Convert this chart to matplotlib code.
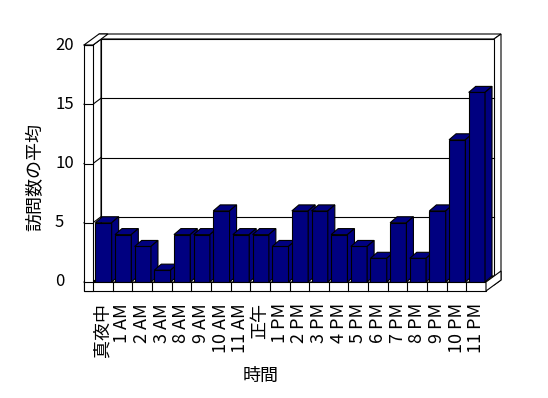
import matplotlib
matplotlib.use('Agg')
import matplotlib.pyplot as plt
from matplotlib.patches import Polygon

plt.rcParams['font.family'] = ['Noto Sans CJK JP', 'DejaVu Sans']

# data
hours = ['真夜中', '1 AM', '2 AM', '3 AM', '8 AM', '9 AM', '10 AM', '11 AM',
         '正午', '1 PM', '2 PM', '3 PM', '4 PM', '5 PM', '6 PM', '7 PM',
         '8 PM', '9 PM', '10 PM', '11 PM']
avg_visits = [5, 4, 3, 1, 4, 4, 6, 4, 4, 3, 6, 6, 4, 3, 2, 5, 2, 6, 12, 16]
y_ticks = [0, 5, 10, 15, 20]
y_label = '訪問数の平均'
x_label = '時間'

# pixel geometry of the pseudo-3D box (Excel style)
X0_PX, Y0_PX = 93, 282          # front-left-bottom corner of plot floor
SLOT_PX, UNIT_PX = 19.65, 11.85  # px per category, px per value unit
W, H = len(hours), 20
PX, PY = 1 / SLOT_PX, 1 / UNIT_PX
DEPTH = (8 * PX, 6 * PY)         # front plane -> back wall surface
THICK = (7 * PX, 5 * PY)         # back wall thickness
SLAB_X, SLAB_Y = 9 * PX, 9 * PY  # left wall / floor thickness
BAR_D = (7 * PX, 6 * PY)
NAVY = '#000080'
LW = 0.8

fig = plt.figure(figsize=(5.48, 3.98), dpi=100)
ax = fig.add_axes([0, 0, 1, 1])
ax.set_xlim(-X0_PX * PX, (548 - X0_PX) * PX)
ax.set_ylim((Y0_PX - 398) * PY, Y0_PX * PY)
ax.set_axis_off()


def poly(pts, fc='white', z=1):
    ax.add_patch(Polygon(pts, closed=True, facecolor=fc, edgecolor='black',
                         linewidth=LW, zorder=z, joinstyle='miter'))


dx, dy = DEPTH
tx, ty = THICK
# back wall: top strip, right strip, front surface
poly([(0 + dx, H + dy), (W + dx, H + dy), (W + dx + tx, H + dy + ty),
      (dx + tx - SLAB_X, H + dy + ty)])
poly([(W + dx, H + dy), (W + dx + tx, H + dy + ty), (W + dx + tx, dy + ty - SLAB_Y),
      (W + dx, dy - SLAB_Y)])
poly([(dx, dy), (W + dx, dy), (W + dx, H + dy), (dx, H + dy)])
for v in y_ticks[1:-1]:
    ax.plot([dx, W + dx], [v + dy, v + dy], color='black', lw=LW, zorder=2)

# left wall inner face with diagonal gridlines
poly([(0, 0), (dx, dy), (dx, H + dy), (0, H)])
for v in y_ticks:
    ax.plot([-SLAB_X, 0, dx], [v, v, v + dy], color='black', lw=LW, zorder=2)

# floor top face
poly([(0, 0), (W, 0), (W + dx, dy), (dx, dy)])

# bars, drawn left to right so each covers its neighbour's side face
bw0, bw1 = 0.12, 0.95
for i, v in enumerate(avg_visits):
    x0, x1 = i + bw0, i + bw1
    bx, by = BAR_D
    poly([(x0, 0), (x1, 0), (x1, v), (x0, v)], fc=NAVY, z=3)
    poly([(x0, v), (x1, v), (x1 + bx, v + by), (x0 + bx, v + by)], fc=NAVY, z=3)
    poly([(x1, 0), (x1 + bx, by), (x1 + bx, v + by), (x1, v)], fc=NAVY, z=3)

# floor slab front + right faces, left wall front + top faces
poly([(-SLAB_X, -SLAB_Y), (W, -SLAB_Y), (W, 0), (-SLAB_X, 0)], z=4)
poly([(W, -SLAB_Y), (W + dx + tx, dy + ty - SLAB_Y), (W + dx + tx, dy + ty),
      (W, 0)], z=4)
for i in range(1, W):
    ax.plot([i, i], [-SLAB_Y, 0], color='black', lw=LW, zorder=5)
poly([(-SLAB_X, -SLAB_Y), (0, -SLAB_Y), (0, H), (-SLAB_X, H)], z=4)
poly([(-SLAB_X, H), (0, H), (dx + tx, H + dy + ty), (dx + tx - SLAB_X, H + dy + ty)], z=4)
for v in y_ticks:
    ax.plot([-SLAB_X, 0], [v, v], color='black', lw=LW, zorder=5)

# labels
for v in y_ticks:
    ax.text((55 - X0_PX) * PX, v, str(v), ha='left', va='center', fontsize=12)
for i, name in enumerate(hours):
    ax.text(i + 0.5, -(303 - Y0_PX) * PY, name, rotation=90, ha='center',
            va='top', fontsize=13)
ax.text((35 - X0_PX) * PX, (Y0_PX - 177) * PY, y_label, rotation=90,
        ha='center', va='center', fontsize=13)
ax.text((261 - X0_PX) * PX, (Y0_PX - 376) * PY, x_label, ha='center',
        va='center', fontsize=13)

fig.savefig('out.png', dpi=100)
